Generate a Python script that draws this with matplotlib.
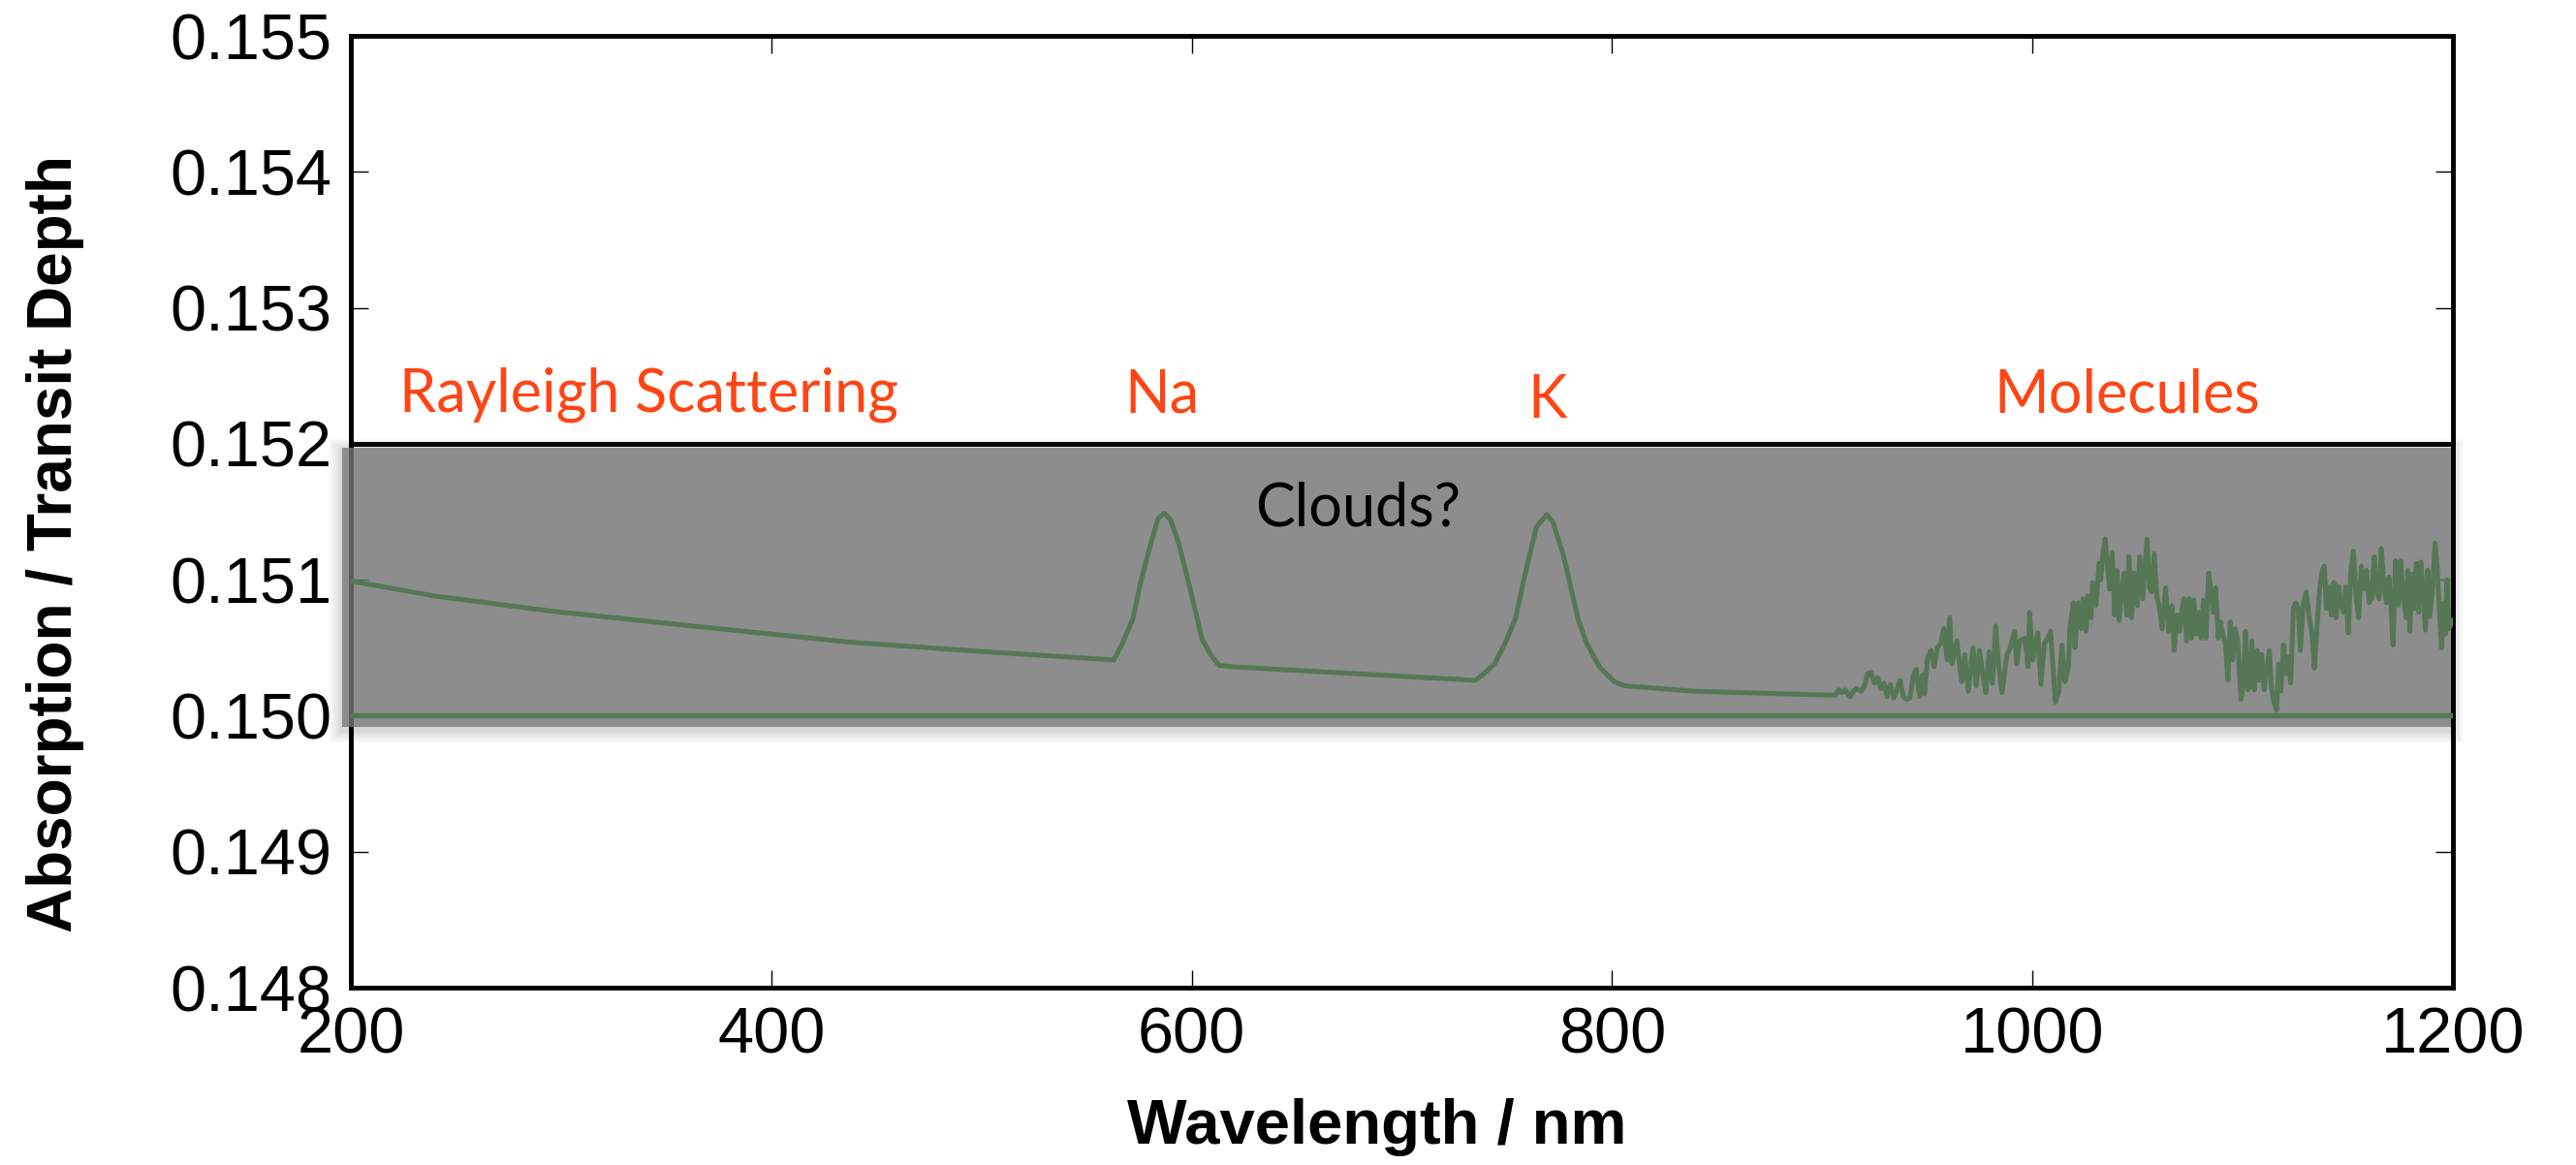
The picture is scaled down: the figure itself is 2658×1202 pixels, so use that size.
import matplotlib
matplotlib.use("Agg")
import matplotlib.pyplot as plt
from matplotlib.patches import Rectangle

# ---------------- data ----------------
# smooth part: Rayleigh slope, Na and K lines
wl_smooth = [200, 240, 295, 356, 438, 502, 563, 567, 572, 576,
             581, 584, 587, 590, 594, 599, 605, 609, 613, 619,
             677, 735, 739, 744, 749, 754, 758, 764, 769, 772,
             777, 784, 788, 794, 801, 806, 839, 906]
depth_smooth = [0.15099, 0.15088, 0.15077, 0.15067, 0.15054, 0.15047, 0.15041, 0.15053, 0.15071, 0.15100,
                0.15129, 0.15145, 0.15149, 0.15144, 0.15126, 0.15095, 0.15056, 0.15045, 0.15037, 0.15036,
                0.15031, 0.15026, 0.15031, 0.15038, 0.15053, 0.15071, 0.15100, 0.15139, 0.15148, 0.15142,
                0.15117, 0.15070, 0.15053, 0.15036, 0.15025, 0.15022, 0.15018, 0.15015]

# molecular bands (noisy part)
wl_mol = [
    907.8, 909.3, 910.9, 913.2, 914.7, 916.2, 918.6, 920.1, 921.6, 923.2,
    924.7, 926.3, 927.8, 929.3, 930.9, 932.4, 934.0, 935.5, 937.0, 938.6,
    940.1, 941.7, 943.2, 944.7, 946.3, 947.8, 948.6, 950.1, 951.7, 953.2,
    954.7, 956.3, 957.8, 959.4, 960.6, 961.7, 964.0, 966.3, 967.8, 969.4,
    971.7, 973.2, 974.8, 976.3, 977.8, 979.4, 980.9, 982.5, 984.0, 985.5,
    987.9, 989.4, 991.4, 992.5, 994.0, 996.3, 997.9, 998.6, 1000.2, 1002.5,
    1004.0, 1005.6,
    1007.1, 1008.6, 1010.9, 1012.5, 1014.0, 1015.5, 1017.1, 1017.8, 1019.4, 1020.2,
    1021.7, 1023.2, 1024.0, 1025.5, 1026.3, 1027.9, 1028.6, 1030.2, 1031.7, 1032.5,
    1033.5, 1034.5, 1035.6, 1036.6, 1037.9, 1039.1, 1040.2, 1041.2, 1042.5, 1043.7,
    1044.8, 1045.9, 1047.1, 1048.3, 1049.9, 1051.0, 1052.5, 1053.6, 1054.5, 1055.6,
    1056.6, 1057.9, 1059.1, 1060.2, 1061.7, 1063.3, 1064.8, 1066.4, 1067.4, 1068.7,
    1069.9, 1071.0, 1072.0, 1073.3, 1074.5, 1075.6, 1076.7, 1077.9, 1079.1, 1080.2,
    1081.3, 1082.5, 1083.8, 1084.8, 1085.9, 1087.1, 1088.4, 1089.5, 1090.5, 1091.8,
    1093.0, 1094.1, 1095.2, 1096.4, 1097.6, 1099.2, 1100.2, 1101.3, 1102.5,
    1103.3, 1104.3, 1105.6, 1106.8, 1107.9, 1109.0, 1110.2, 1111.4, 1112.7, 1113.6,
    1114.8, 1116.1, 1117.1, 1118.2, 1119.4, 1120.7, 1121.8, 1122.8, 1124.1, 1125.3,
    1126.4, 1127.4, 1128.7, 1130.2, 1131.5, 1133.0, 1134.1, 1135.1, 1136.7, 1137.9,
    1138.8, 1139.8, 1141.0, 1142.2, 1143.3, 1144.4, 1145.6, 1146.9, 1148.1, 1149.0,
    1150.2, 1151.5, 1152.7, 1153.9, 1155.2, 1156.4, 1157.6, 1158.9, 1160.1, 1161.3,
    1162.6, 1163.8, 1164.9, 1165.9, 1167.2, 1168.4, 1169.6, 1170.6, 1171.5, 1172.7,
    1174.0, 1175.2, 1176.4, 1177.7, 1178.6, 1179.5, 1180.6, 1181.7, 1182.6, 1183.7,
    1184.7, 1185.8, 1186.9, 1188.0, 1189.0, 1190.3, 1191.5, 1192.6, 1193.7, 1194.6,
    1195.5, 1196.4, 1197.2, 1198.0, 1200.0,
]
depth_mol = [
    0.15019, 0.15017, 0.15019, 0.15014, 0.15018, 0.15020, 0.15018, 0.15022, 0.15031, 0.15032,
    0.15024, 0.15028, 0.15020, 0.15024, 0.15014, 0.15023, 0.15013, 0.15019, 0.15026, 0.15014,
    0.15012, 0.15013, 0.15029, 0.15034, 0.15014, 0.15030, 0.15016, 0.15043, 0.15048, 0.15036,
    0.15050, 0.15053, 0.15064, 0.15041, 0.15072, 0.15038, 0.15055, 0.15025, 0.15045, 0.15018,
    0.15050, 0.15022, 0.15048, 0.15031, 0.15017, 0.15047, 0.15024, 0.15066, 0.15036, 0.15017,
    0.15045, 0.15050, 0.15062, 0.15038, 0.15055, 0.15057, 0.15036, 0.15076, 0.15041, 0.15061,
    0.15023, 0.15053,
    0.15057, 0.15062, 0.15010, 0.15017, 0.15052, 0.15025, 0.15036, 0.15064, 0.15083, 0.15050,
    0.15083, 0.15064, 0.15086, 0.15062, 0.15088, 0.15072, 0.15098, 0.15081, 0.15112, 0.15100,
    0.15119, 0.15130, 0.15112, 0.15093, 0.15120, 0.15074, 0.15107, 0.15070, 0.15093, 0.15105,
    0.15074, 0.15117, 0.15072, 0.15105, 0.15081, 0.15117, 0.15086, 0.15112, 0.15130, 0.15095,
    0.15091, 0.15119, 0.15088, 0.15081, 0.15064, 0.15094, 0.15062, 0.15081, 0.15048, 0.15074,
    0.15062, 0.15076, 0.15086, 0.15055, 0.15086, 0.15057, 0.15085, 0.15060, 0.15076, 0.15057,
    0.15085, 0.15057, 0.15105, 0.15093, 0.15076, 0.15094, 0.15057, 0.15069, 0.15060, 0.15052,
    0.15026, 0.15069, 0.15041, 0.15064, 0.15055, 0.15012, 0.15022, 0.15062, 0.15019,
    0.15022, 0.15055, 0.15019, 0.15048, 0.15026, 0.15045, 0.15019, 0.15033, 0.15048, 0.15022,
    0.15010, 0.15004, 0.15038, 0.15018, 0.15052, 0.15031, 0.15043, 0.15024, 0.15079, 0.15083,
    0.15079, 0.15048, 0.15081, 0.15091, 0.15074, 0.15060, 0.15035, 0.15060, 0.15095, 0.15107,
    0.15110, 0.15079, 0.15095, 0.15074, 0.15098, 0.15072, 0.15095, 0.15081, 0.15076, 0.15095,
    0.15061, 0.15107, 0.15121, 0.15088, 0.15072, 0.15110, 0.15093, 0.15107, 0.15083, 0.15086,
    0.15117, 0.15091, 0.15086, 0.15123, 0.15095, 0.15083, 0.15102, 0.15079, 0.15052, 0.15114,
    0.15081, 0.15114, 0.15088, 0.15072, 0.15107, 0.15062, 0.15104, 0.15079, 0.15112, 0.15076,
    0.15113, 0.15093, 0.15063, 0.15107, 0.15073, 0.15093, 0.15127, 0.15107, 0.15074, 0.15050,
    0.15083, 0.15060, 0.15100, 0.15064, 0.15070,
]

cloud_level = 0.150
cloud_top = 0.152
x_ticks = [200, 400, 600, 800, 1000, 1200]
y_ticks = [0.148, 0.149, 0.150, 0.151, 0.152, 0.153, 0.154, 0.155]
y_ticklabels = ["0.148", "0.149", "0.150", "0.151", "0.152", "0.153", "0.154", "0.155"]

annotations = [
    ("Rayleigh Scattering", 223, 0.15224, "left"),
    ("Na", 586, 0.15223, "center"),
    ("K", 769, 0.15219, "center"),
    ("Molecules", 1045, 0.15223, "center"),
]

# ---------------- figure ----------------
W, H, DPI = 2658, 1202, 100
fig = plt.figure(figsize=(W / DPI, H / DPI), dpi=DPI)
L, R, B, T = 362 / W, 2531 / W, 1 - 1019 / H, 1 - 37 / H
ax = fig.add_axes([L, B, R - L, T - B])

ax.set_xlim(200, 1200)
ax.set_ylim(0.148, 0.155)

green = "#557755"
wl_all = wl_smooth + wl_mol
d_all = depth_smooth + depth_mol
ax.plot(wl_all, d_all, color=green, lw=3.6, zorder=6, solid_joinstyle="round")
ax.plot([200, 1200], [cloud_level, cloud_level], color=green, lw=3.8, zorder=6)

# black line at top of cloud deck
ax.axhline(cloud_top, color="black", lw=3.5, zorder=2.6)

# grey cloud box with soft shadow
px_x = 1000 / (2531 - 362)
px_y = 0.007 / (1019 - 37)
x0, x1 = 200 - 9 * px_x, 1200 - 2 * px_x
y0, y1 = cloud_level - 12 * px_y, cloud_top - 4 * px_y
for i in range(1, 9):
    e = i * 1.6
    ax.add_patch(Rectangle((x0 - e * px_x, y0 - e * px_y - 3 * px_y),
                           (x1 - x0) + 2 * e * px_x, (y1 - y0) + 2 * e * px_y,
                           facecolor="black", edgecolor="none", alpha=0.018,
                           zorder=4, clip_on=False))
ax.add_patch(Rectangle((x0, y0), x1 - x0, y1 - y0, facecolor=(0.47, 0.47, 0.47),
                       edgecolor="none", alpha=0.78, zorder=5, clip_on=False))

# annotations
orange = "#ff4515"
for txt, x, y, ha in annotations:
    ax.text(x, y, txt, color=orange, fontsize=44, family="Lato", ha=ha,
            va="baseline", zorder=7)
ax.text(679, 0.15140, "Clouds?", color="black", fontsize=44, family="Lato",
        ha="center", va="baseline", zorder=7)

# axes styling
for s in ax.spines.values():
    s.set_linewidth(3.5)
    s.set_zorder(2.5)
ax.set_xticks(x_ticks)
ax.set_xticklabels([str(v) for v in x_ticks])
ax.set_yticks(y_ticks)
ax.set_yticklabels(y_ticklabels)
ax.tick_params(axis="both", direction="in", length=13, width=1.0, color="black",
               top=True, right=True, labelsize=48, pad=14)
for lab in ax.get_xticklabels() + ax.get_yticklabels():
    lab.set_family("Liberation Sans")

ax.set_xlabel("Wavelength / nm", fontsize=47, fontweight="bold", family="Liberation Sans")
ax.set_ylabel("Absorption / Transit Depth", fontsize=46, fontweight="bold", family="Liberation Sans")
ax.xaxis.set_label_coords(0.488, -0.116)
ax.yaxis.set_label_coords(-0.127, 0.466)

fig.savefig("out.png", dpi=DPI)
